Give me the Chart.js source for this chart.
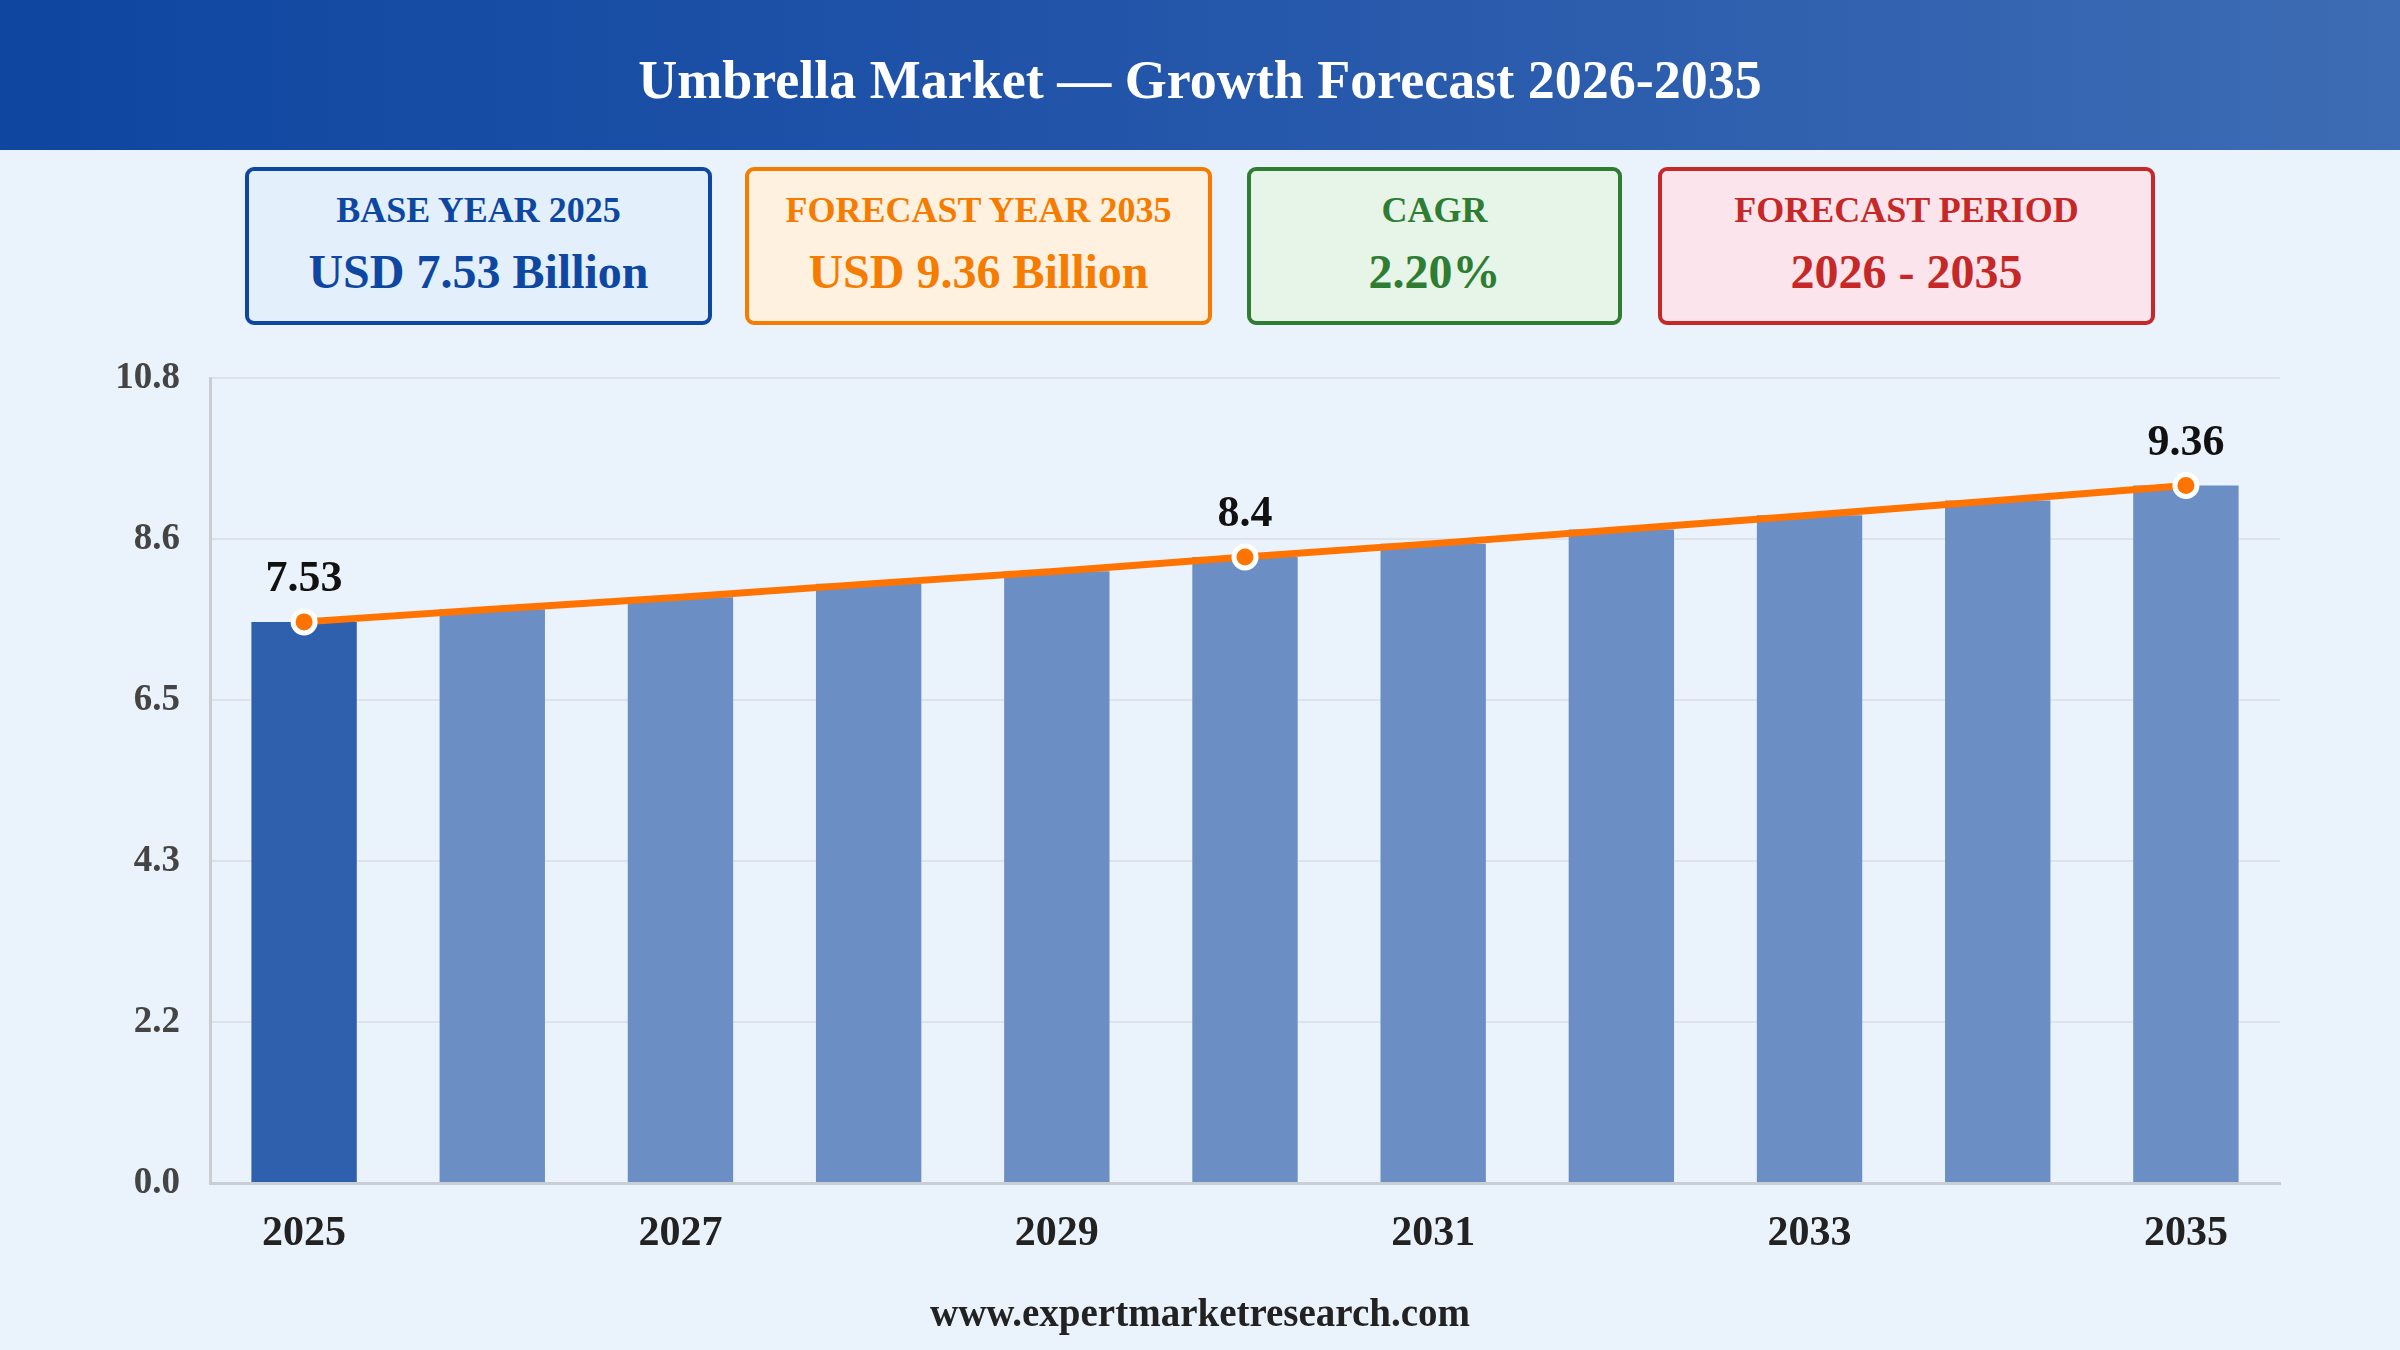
<!DOCTYPE html>
<html>
<head>
<meta charset="utf-8">
<script src="https://cdn.jsdelivr.net/npm/chart.js@4"></script>
<style>
  html, body { margin:0; padding:0; width:2400px; height:1350px; overflow:hidden; background:#EAF2FB; font-family:"Liberation Serif","Times New Roman",serif; }
  #header { position:absolute; left:0; top:0; width:2400px; height:150px; background:linear-gradient(90deg,#0E46A0 0%,#2456AA 50%,#3D6CB4 100%); }
  #header h1 { position:absolute; left:0; right:0; top:53px; margin:0; line-height:1; text-align:center; color:#fff; font-weight:bold; font-size:54px; }
  .card { position:absolute; top:167px; height:158px; box-sizing:border-box; border:4px solid; border-radius:9px; text-align:center; font-weight:bold; }
  .card .lab { position:absolute; left:0; right:0; top:21px; line-height:1; font-size:36px; }
  .card .val { position:absolute; left:0; right:0; top:77px; line-height:1; font-size:48px; }
  #c1 { left:245px; width:467px; border-color:#0D47A1; background:#E3F0FC; color:#0D47A1; }
  #c2 { left:745px; width:467px; border-color:#F57C00; background:#FFF1DF; color:#F57C00; }
  #c3 { left:1247px; width:375px; border-color:#2E7D32; background:#E7F5E9; color:#2E7D32; }
  #c4 { left:1658px; width:497px; border-color:#C62828; background:#FCE4EC; color:#C62828; }
  #wrap { position:absolute; left:0; top:326px; width:2400px; height:974px; }
  #footer { position:absolute; left:0; width:2400px; top:1290px; text-align:center; font-weight:bold; font-size:39px; color:#222; }
</style>
</head>
<body>
<div id="header"><h1>Umbrella Market — Growth Forecast 2026-2035</h1></div>
<div class="card" id="c1"><div class="lab">BASE YEAR 2025</div><div class="val">USD 7.53 Billion</div></div>
<div class="card" id="c2"><div class="lab">FORECAST YEAR 2035</div><div class="val">USD 9.36 Billion</div></div>
<div class="card" id="c3"><div class="lab">CAGR</div><div class="val">2.20%</div></div>
<div class="card" id="c4"><div class="lab">FORECAST PERIOD</div><div class="val">2026 - 2035</div></div>
<div id="wrap"><canvas id="chart"></canvas></div>
<div id="footer">www.expertmarketresearch.com</div>
<script>
const years = ['2025','2026','2027','2028','2029','2030','2031','2032','2033','2034','2035'];
const marketValues = [7.53, 7.70, 7.86, 8.04, 8.21, 8.40, 8.58, 8.77, 8.96, 9.16, 9.36];
const labeledYears = ['2025','2030','2035'];
const axisMax = 10.8;

const FONT = '"Liberation Serif","Times New Roman",serif';

const labelPlugin = {
  id: 'valueLabels',
  afterDatasetsDraw(chart) {
    const meta = chart.getDatasetMeta(1);
    const ctx = chart.ctx;
    ctx.save();
    ctx.font = 'bold 44px ' + FONT;
    ctx.fillStyle = '#111';
    ctx.textAlign = 'center';
    ctx.textBaseline = 'middle';
    meta.data.forEach((pt, i) => {
      if (labeledYears.includes(years[i])) {
        const v = marketValues[i];
        ctx.fillText(String(+v.toFixed(2)), pt.x, pt.y - 42);
      }
    });
    ctx.restore();
  }
};

new Chart(document.getElementById('chart'), {
  data: {
    labels: years,
    datasets: [
      {
        type: 'bar',
        data: marketValues,
        backgroundColor: (c) => c.dataIndex === 0 ? '#2F60AE' : '#6B8FC5',
        barPercentage: 0.7,
        categoryPercentage: 0.8,
        order: 2
      },
      {
        type: 'line',
        data: marketValues,
        borderColor: '#FF7300',
        borderWidth: 7,
        pointRadius: (c) => labeledYears.includes(years[c.dataIndex]) ? 11 : 0,
        pointHoverRadius: 0,
        pointBackgroundColor: '#FF7300',
        pointBorderColor: '#FFFFFF',
        pointBorderWidth: 5,
        tension: 0,
        order: 1
      }
    ]
  },
  options: {
    responsive: true,
    maintainAspectRatio: false,
    animation: false,
    devicePixelRatio: 1,
    layout: { padding: { left: 0, right: 120, top: 23, bottom: 37 } },
    plugins: { legend: { display: false }, tooltip: { enabled: false } },
    scales: {
      x: {
        grid: { display: false, drawTicks: false },
        border: { display: true, color: '#C9CED5', width: 3 },
        ticks: {
          autoSkip: false,
          maxRotation: 0,
          padding: 26,
          color: '#222',
          font: { family: FONT, size: 42, weight: 'bold' },
          callback: function(v, i) { return i % 2 === 0 ? years[i] : ''; }
        },
        afterFit(s) { s.height = 80; }
      },
      y: {
        min: 0,
        max: axisMax,
        grid: { color: '#DEE3E9', lineWidth: 2, drawTicks: false },
        border: { display: true, color: '#C9CED5', width: 3 },
        ticks: {
          count: 6,
          padding: 30,
          color: '#444',
          font: { family: FONT, size: 37, weight: 'bold' },
          callback: (v) => Number(v).toFixed(1)
        },
        afterFit(s) { s.width = 210; }
      }
    }
  },
  plugins: [labelPlugin]
});
</script>
</body>
</html>
